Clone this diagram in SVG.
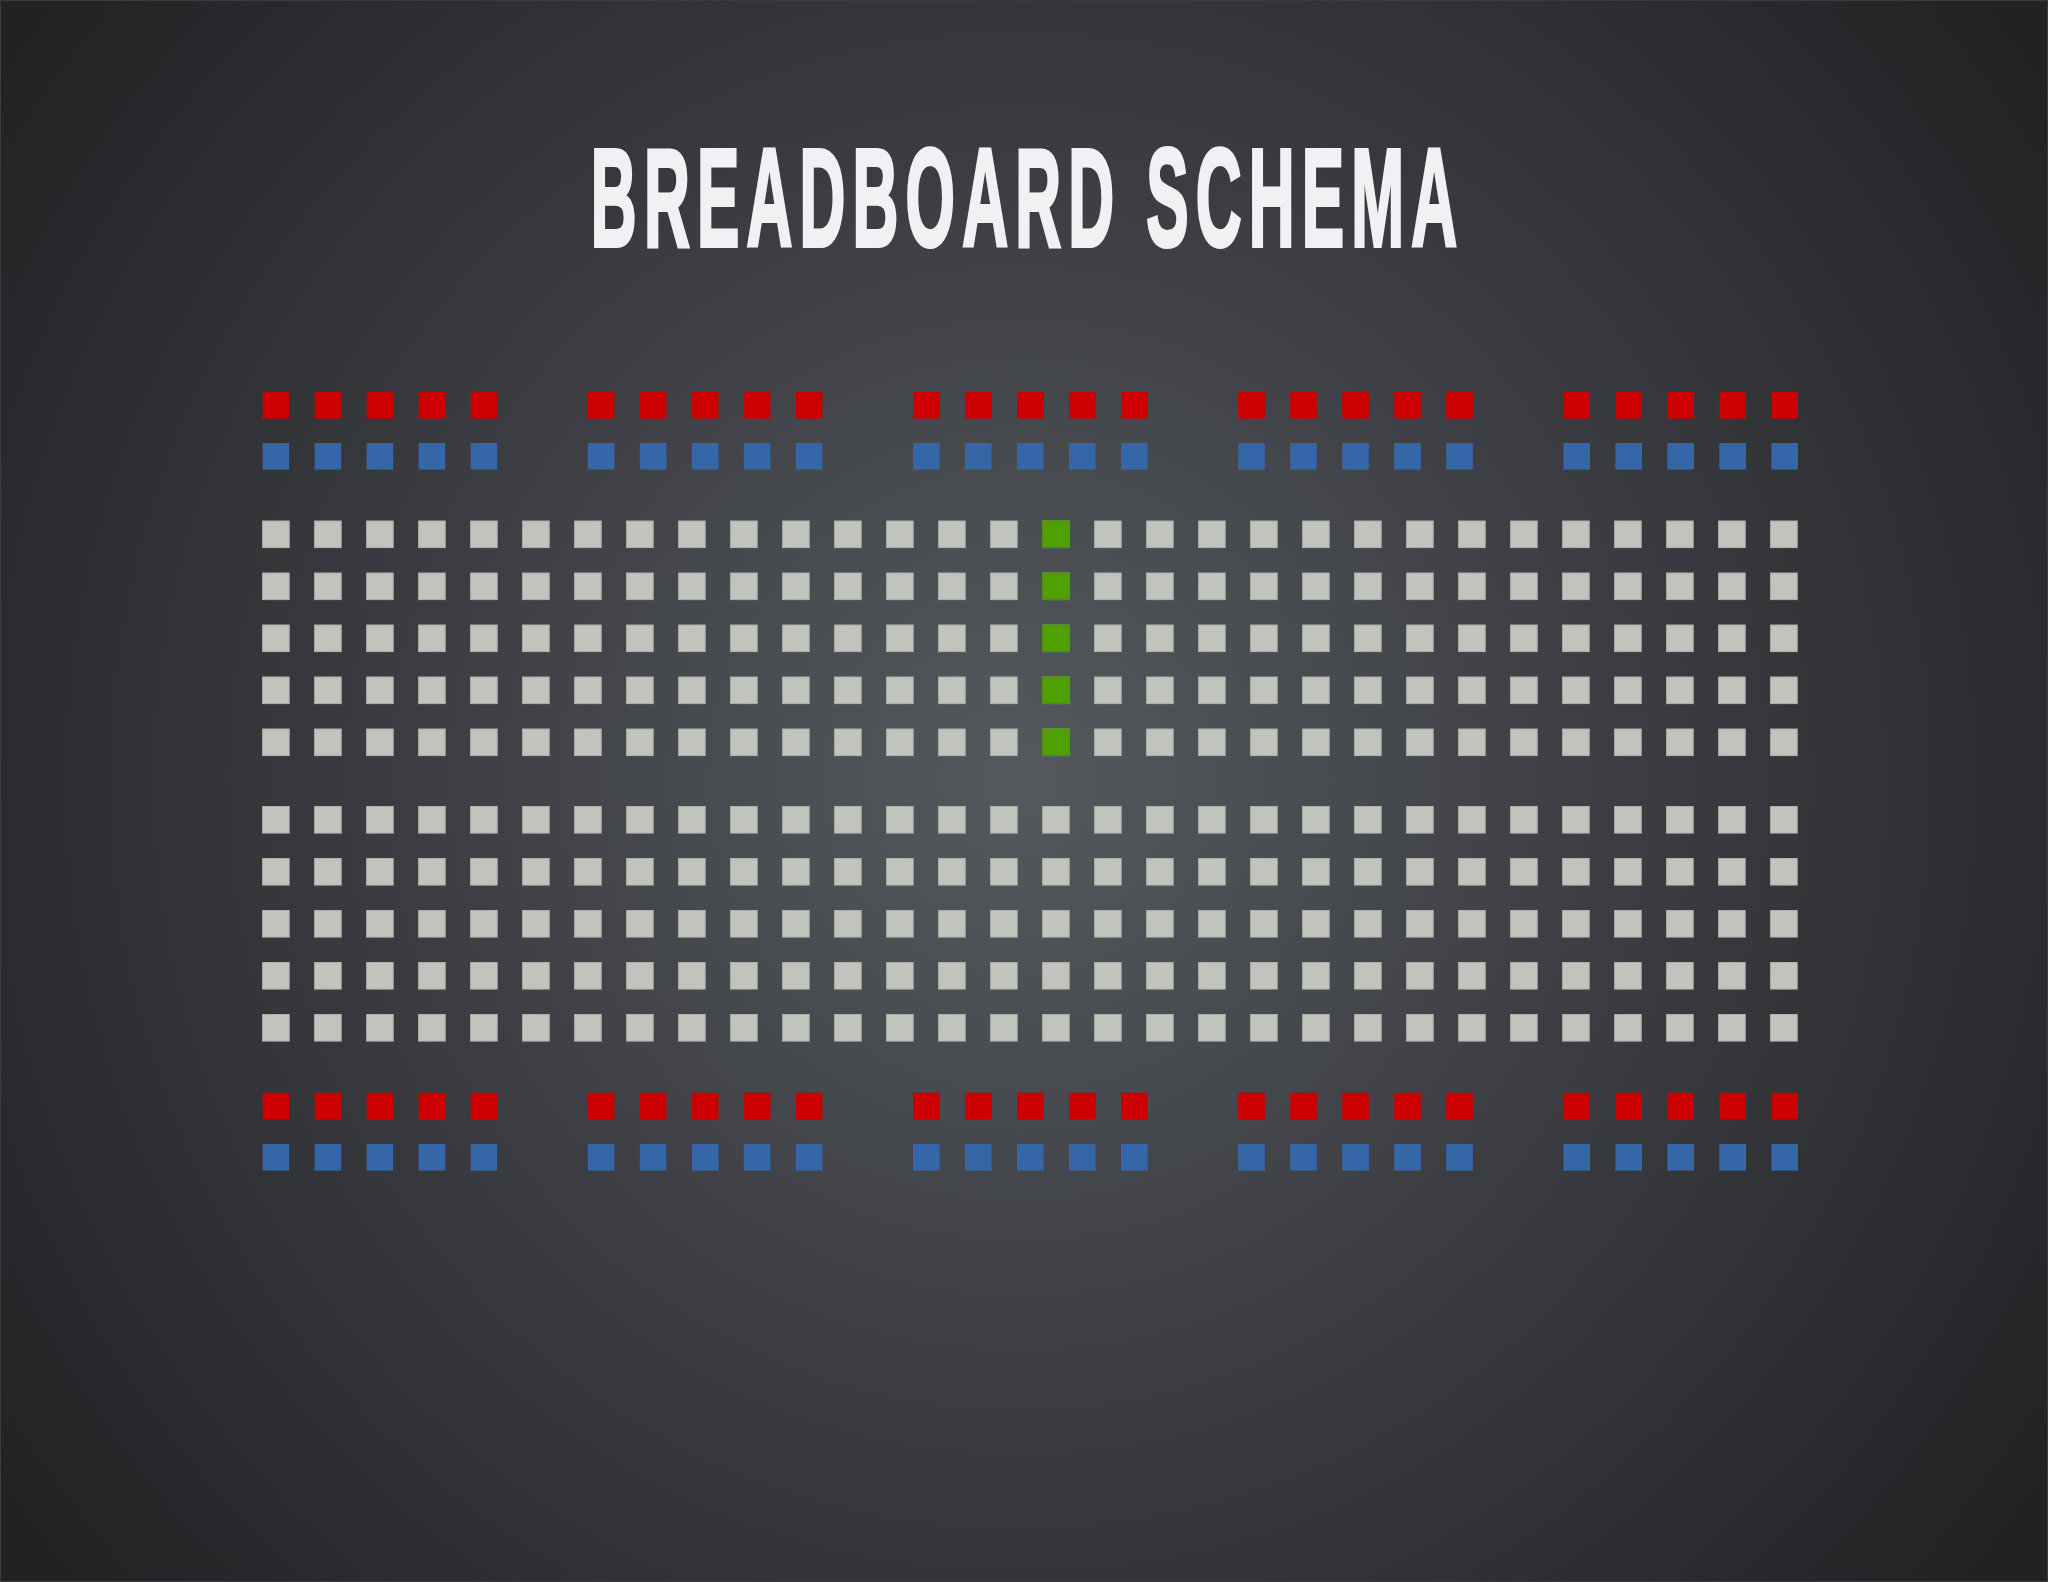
<svg xmlns="http://www.w3.org/2000/svg" xmlns:xlink="http://www.w3.org/1999/xlink" width="2048" height="1582" viewBox="0 0 2048 1582">
<style>
.title{font-family:"Liberation Sans","DejaVu Sans",sans-serif;font-weight:bold;fill:#f1f1f3;stroke:#f1f1f3;stroke-width:4;stroke-linejoin:miter;letter-spacing:16px}
.hole{fill:#c1c3bd;stroke:#aeb0ab;stroke-width:1}
.red{fill:#cc0000}
.blue{fill:#3566a8}
.green{fill:#4fa003;stroke:#469003;stroke-width:1}
</style>
<defs>
<radialGradient id="bg" cx="1020" cy="780" r="1250" gradientUnits="userSpaceOnUse">
<stop offset="0" stop-color="#55595e"/>
<stop offset="0.45" stop-color="#3d3f44"/>
<stop offset="1" stop-color="#212224"/>
</radialGradient>
<g id="row">
<rect x="0" width="26.6" height="26.6"/><rect x="52" width="26.6" height="26.6"/><rect x="104" width="26.6" height="26.6"/><rect x="156" width="26.6" height="26.6"/><rect x="208" width="26.6" height="26.6"/><rect x="260" width="26.6" height="26.6"/><rect x="312" width="26.6" height="26.6"/><rect x="364" width="26.6" height="26.6"/><rect x="416" width="26.6" height="26.6"/><rect x="468" width="26.6" height="26.6"/><rect x="520" width="26.6" height="26.6"/><rect x="572" width="26.6" height="26.6"/><rect x="624" width="26.6" height="26.6"/><rect x="676" width="26.6" height="26.6"/><rect x="728" width="26.6" height="26.6"/><rect x="780" width="26.6" height="26.6"/><rect x="832" width="26.6" height="26.6"/><rect x="884" width="26.6" height="26.6"/><rect x="936" width="26.6" height="26.6"/><rect x="988" width="26.6" height="26.6"/><rect x="1040" width="26.6" height="26.6"/><rect x="1092" width="26.6" height="26.6"/><rect x="1144" width="26.6" height="26.6"/><rect x="1196" width="26.6" height="26.6"/><rect x="1248" width="26.6" height="26.6"/><rect x="1300" width="26.6" height="26.6"/><rect x="1352" width="26.6" height="26.6"/><rect x="1404" width="26.6" height="26.6"/><rect x="1456" width="26.6" height="26.6"/><rect x="1508" width="26.6" height="26.6"/>
</g>
<g id="rail5">
<rect x="0" width="26.6" height="26.6"/><rect x="52" width="26.6" height="26.6"/><rect x="104" width="26.6" height="26.6"/><rect x="156" width="26.6" height="26.6"/><rect x="208" width="26.6" height="26.6"/>
</g>
<g id="rail">
<use xlink:href="#rail5" x="0"/><use xlink:href="#rail5" x="325.2"/><use xlink:href="#rail5" x="650.4"/><use xlink:href="#rail5" x="975.6"/><use xlink:href="#rail5" x="1300.8"/>
</g>
</defs>
<rect width="2048" height="1582" fill="url(#bg)"/>
<rect x="0.5" y="0.5" width="2047" height="1581" fill="none" stroke="#3a3b3e" stroke-width="1"/>
<g transform="translate(1024,246) scale(0.453,1)">
<text class="title" x="8" y="0" font-size="140" text-anchor="middle">BREADBOARD SCHEMA</text>
</g>
<g id="top-rails">
<use xlink:href="#rail" class="red" x="262.6" y="392"/>
<use xlink:href="#rail" class="blue" x="262.6" y="443"/>
</g>
<g id="upper-block" class="hole">
<use xlink:href="#row" x="262.6" y="521"/>
<use xlink:href="#row" x="262.6" y="573"/>
<use xlink:href="#row" x="262.6" y="625"/>
<use xlink:href="#row" x="262.6" y="677"/>
<use xlink:href="#row" x="262.6" y="729"/>
</g>
<g id="highlight" class="green">
<rect x="1042.6" y="521" width="26.6" height="26.6"/>
<rect x="1042.6" y="573" width="26.6" height="26.6"/>
<rect x="1042.6" y="625" width="26.6" height="26.6"/>
<rect x="1042.6" y="677" width="26.6" height="26.6"/>
<rect x="1042.6" y="729" width="26.6" height="26.6"/>
</g>
<g id="lower-block" class="hole">
<use xlink:href="#row" x="262.6" y="806.5"/>
<use xlink:href="#row" x="262.6" y="858.5"/>
<use xlink:href="#row" x="262.6" y="910.5"/>
<use xlink:href="#row" x="262.6" y="962.5"/>
<use xlink:href="#row" x="262.6" y="1014.5"/>
</g>
<g id="bottom-rails">
<use xlink:href="#rail" class="red" x="262.6" y="1092.7"/>
<use xlink:href="#rail" class="blue" x="262.6" y="1144"/>
</g>
</svg>
